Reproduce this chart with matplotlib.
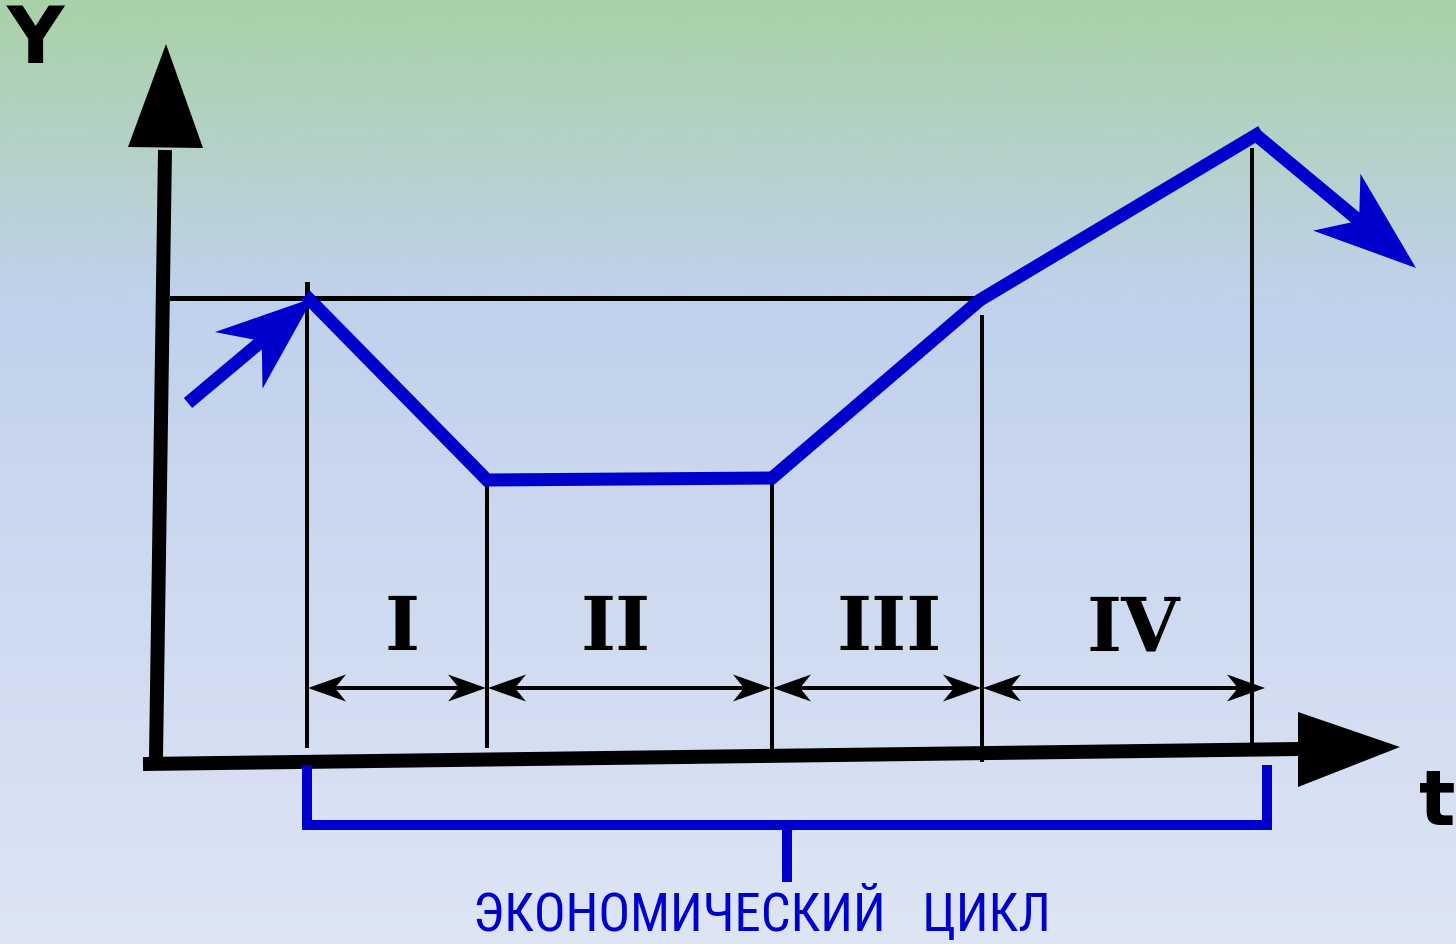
import numpy as np
import matplotlib
matplotlib.use("Agg")
import matplotlib.pyplot as plt
from matplotlib.patches import Polygon
from matplotlib.colors import LinearSegmentedColormap
from matplotlib import font_manager as fm

# ---- data (pixel-space diagram coordinates) ----
curve_x = [310, 487, 772, 980, 1256]
curve_y = [300, 480, 478, 300, 135]
phase_bounds = [307, 487, 772, 982, 1252]
phase_tops = [300, 480, 480, 315, 148]
phase_bottoms = [748, 748, 762, 762, 745]
phase_labels = ["I", "II", "III", "IV"]
phase_label_x = [402, 616, 889, 1133]
in_arrow = [(188, 403), (313, 298)]
out_arrow = [(1256, 135), (1416, 268)]
level_y = 298
bracket_x = [307, 1267]
caption = "ЭКОНОМИЧЕСКИЙ   ЦИКЛ"

W, H = 1456, 944
BLUE = "#0000cc"
PX = 0.72  # points per pixel at dpi 100

fig = plt.figure(figsize=(W / 100, H / 100), dpi=100)
ax = fig.add_axes([0, 0, 1, 1])
ax.set_xlim(0, W)
ax.set_ylim(H, 0)
ax.axis("off")

# background gradient
cmap = LinearSegmentedColormap.from_list(
    "bg", [(0.0, (169/255, 209/255, 168/255)),
           (300/944, (193/255, 209/255, 236/255)),
           (1.0, (221/255, 229/255, 244/255))])
grad = np.linspace(0, 1, 400).reshape(-1, 1)
ax.imshow(grad, cmap=cmap, aspect="auto", extent=[0, W, H, 0], zorder=0)


def head(start, tip, length, half, notch, color, z=5):
    s = np.array(start, float); t = np.array(tip, float)
    d = (t - s) / np.linalg.norm(t - s)
    n = np.array([-d[1], d[0]])
    base = t - d * length
    pts = [t, base + n * half, t - d * notch, base - n * half]
    ax.add_patch(Polygon(pts, closed=True, color=color, lw=0, zorder=z))
    return t - d * notch


# axes of the diagram
ax.plot([156, 165], [757, 150], color="black", lw=14 * PX, solid_capstyle="butt", zorder=3)
ax.add_patch(Polygon([(128, 147), (203, 148), (166, 44)], color="black", lw=0, zorder=3))
ax.plot([143, 1300], [764, 749], color="black", lw=14 * PX, solid_capstyle="butt", zorder=3)
ax.add_patch(Polygon([(1298, 712), (1298, 787), (1400, 747)], color="black", lw=0, zorder=3))
ax.text(35, 41, "Y", fontsize=57, fontweight="bold", ha="center", va="center",
        family="DejaVu Sans", zorder=4)
ax.text(1437, 804, "t", fontsize=55, fontweight="bold", ha="center", va="center",
        family="DejaVu Sans", zorder=4)

# reference level line and tick
ax.plot([172, 982], [level_y, level_y], color="black", lw=5 * PX, zorder=3)
ax.plot([307, 307], [284, level_y], color="black", lw=5 * PX, zorder=3)

# phase boundaries
for x, top, bot in zip(phase_bounds, phase_tops, phase_bottoms):
    ax.plot([x, x], [top, bot], color="black", lw=4 * PX, solid_capstyle="butt", zorder=3)

# double arrows between boundaries
ya = 688
ends = phase_bounds[:-1] + [1265]
for i in range(4):
    a, b = phase_bounds[i] + 1, (ends[i + 1] if i == 3 else phase_bounds[i + 1] - 1)
    pa = head((b, ya), (a, ya), 38, 13.5, 27, "black")
    pb = head((a, ya), (b, ya), 38, 13.5, 27, "black")
    ax.plot([pa[0], pb[0]], [ya, ya], color="black", lw=4 * PX, zorder=4)
    ax.text(phase_label_x[i], 622, phase_labels[i], fontsize=54, fontweight="bold",
            family="DejaVu Serif", ha="center", va="center_baseline", zorder=4)

# blue cycle curve
ax.plot(curve_x, curve_y, color=BLUE, lw=13 * PX, solid_joinstyle="miter", zorder=6)
nb = head(in_arrow[0], in_arrow[1], 97, 37, 67, BLUE, z=6)
ax.plot([in_arrow[0][0], nb[0]], [in_arrow[0][1], nb[1]], color=BLUE, lw=13 * PX,
        solid_capstyle="butt", zorder=6)
nb = head(out_arrow[0], out_arrow[1], 103, 37, 74, BLUE, z=6)
ax.plot([out_arrow[0][0], nb[0]], [out_arrow[0][1], nb[1]], color=BLUE, lw=13 * PX,
        solid_capstyle="butt", zorder=6)

# bracket
ax.plot([bracket_x[0], bracket_x[0], bracket_x[1], bracket_x[1]], [765, 825, 825, 765],
        color=BLUE, lw=10 * PX, solid_joinstyle="miter", solid_capstyle="butt", zorder=5)
ax.plot([787, 787], [825, 882], color=BLUE, lw=10 * PX, solid_capstyle="butt", zorder=5)


# caption: pick a narrow font if one is available, then fit it to the width
def pick_font():
    cands = [("Liberation Sans Narrow", "normal"), ("Roboto Condensed", "normal"),
             ("Roboto", "condensed"), ("Open Sans", "condensed"),
             ("DejaVu Sans", "condensed"), ("Roboto", "normal")]
    for fam, st in cands:
        try:
            p = fm.findfont(fm.FontProperties(family=fam, stretch=st),
                            fallback_to_default=False)
        except Exception:
            continue
        name = p.lower()
        if st == "condensed" and "condensed" not in name and "narrow" not in name:
            continue
        return fm.FontProperties(fname=p)
    return fm.FontProperties(family="DejaVu Sans")


fp = pick_font()
cap = ax.text(762, 942, caption, fontproperties=fp, fontsize=40, color=BLUE,
              ha="center", va="bottom", zorder=5)
r = fig.canvas.get_renderer()
w = cap.get_window_extent(r).width
if w > 578:
    cap.set_fontsize(40 * 578 / w)

fig.savefig("out.png", dpi=100)
